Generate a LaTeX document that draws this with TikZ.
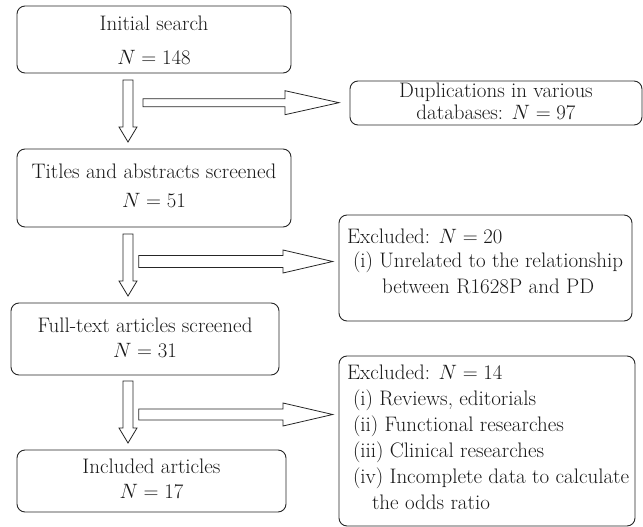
\documentclass[tikz,border=0pt]{standalone}
\usetikzlibrary{calc}
\tikzset{
  box/.style={draw=black!85, line width=0.9pt, rounded corners=8pt, inner sep=0pt, outer sep=0pt,
    font=\fontsize{21}{25}\selectfont, text=black!90},
  blk/.style={draw=black!85, line width=0.8pt, fill=white, line join=miter},
}
\newcommand\lineat[2]{\makebox[0pt][l]{\hspace*{#1}#2}}
\newcommand\varrow[2]{\draw[blk] let \p1=#1, \p2=#2 in
  (\x1-5pt,\y1) -- (\x1+5pt,\y1) -- (\x1+5pt,\y2+15pt) -- (\x1+9pt,\y2+15pt) -- (\x2,\y2)
  -- (\x1-9pt,\y2+15pt) -- (\x1-5pt,\y2+15pt) -- cycle;}
\newcommand\harrow[5]{\draw[blk] let \p1=#1, \p2=#2 in
  (\x1,\y2+#3) -- (\x2-#5,\y2+#3) -- (\x2-#5,\y2+#4) -- (\x2,\y2) -- (\x2-#5,\y2-#4)
  -- (\x2-#5,\y2-#3) -- (\x1,\y2-#3) -- cycle;}
\begin{document}
\begin{tikzpicture}[x=1pt,y=-1pt]
\useasboundingbox (0,0) rectangle (643,527);
% main column
\node[box] (b1) at (154,39.5) {\parbox[c][67pt][t]{274pt}{\centering\rule{0pt}{24.7pt}Initial search\\[9pt]$N = 148$}};
\node[box] (b2) at (154,188) {\parbox[c][78pt][t]{274pt}{\centering\rule{0pt}{29pt}Titles and abstracts screened\\[4pt]$N = 51$}};
\node[box] (b3) at (145,339) {\parbox[c][72pt][t]{268pt}{\centering\rule{0pt}{29pt}Full-text articles screened\\$N = 31$}};
\node[box] (b4) at (151.5,481) {\parbox[c][62pt][t]{269pt}{\centering\rule{0pt}{23pt}Included articles\\$N = 17$}};
% side boxes
\node[box] (dup) at (496,103) {\parbox[c][44pt][t]{292pt}{\centering\rule{0pt}{17pt}Duplications in various\\[-3pt]databases: $N = 97$}};
\node[box] (ex1) at (485.5,268) {\parbox[c][106pt][t]{293pt}{\raggedright\rule{0pt}{28pt}%
  \lineat{8pt}{Excluded: $N = 20$}\\[-1pt]
  \lineat{14pt}{(i) Unrelated to the relationship}\\[1pt]
  \lineat{43pt}{between R1628P and PD}}};
\node[box] (ex2) at (487,441) {\parbox[c][170pt][t]{296pt}{\raggedright\rule{0pt}{23pt}%
  \lineat{8pt}{Excluded: $N = 14$}\\[1pt]
  \lineat{14pt}{(i) Reviews, editorials}\\[1pt]
  \lineat{14pt}{(ii) Functional researches}\\[1pt]
  \lineat{14pt}{(iii) Clinical researches}\\[1pt]
  \lineat{14pt}{(iv) Incomplete data to calculate}\\[1pt]
  \lineat{33pt}{the odds ratio}}};
% arrows
\coordinate (vx) at (128,0);
\varrow{($(b1.south -| vx)+(0,7)$)}{($(b2.north -| vx)+(0,-7)$)}
\varrow{($(b2.south -| vx)+(0,7)$)}{($(b3.north -| vx)+(0,-7)$)}
\varrow{($(b3.south -| vx)+(0,6)$)}{($(b4.north -| vx)+(0,-7)$)}
\harrow{($(vx)+(15,0)$)}{($(dup.west)+(-11,-0.3)$)}{4pt}{12pt}{54pt}
\harrow{($(vx)+(10.7,0)$)}{($(ex1.west)+(-6.3,-6.5)$)}{6pt}{11.5pt}{49.7pt}
\harrow{($(vx)+(10.7,0)$)}{($(ex2.west)+(-6.3,-26.5)$)}{5.5pt}{11.5pt}{49.7pt}
\end{tikzpicture}
\end{document}
